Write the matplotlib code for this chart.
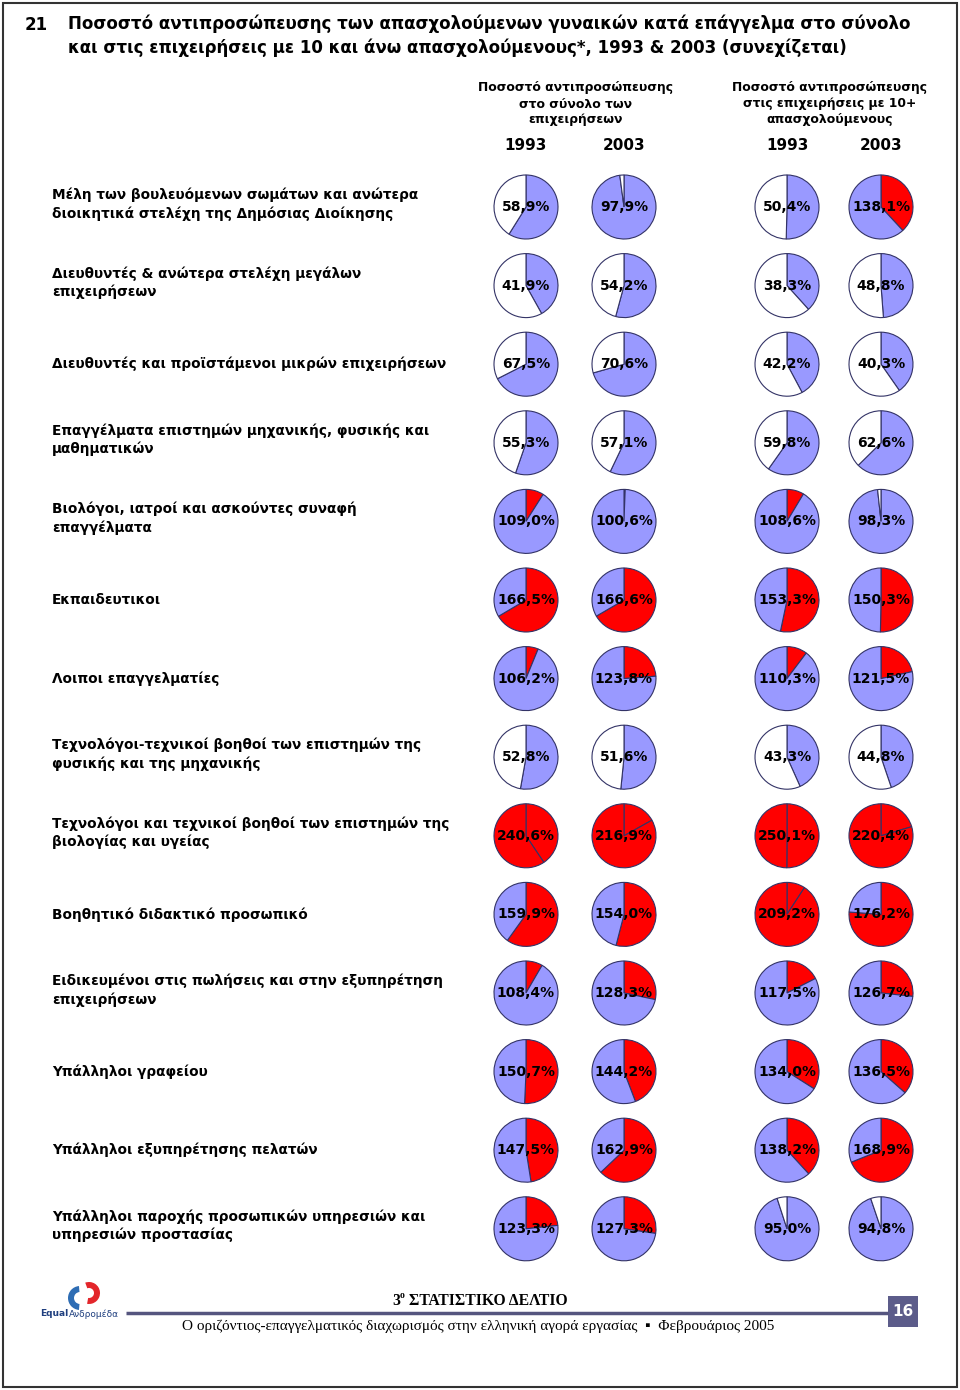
import matplotlib
matplotlib.use("Agg")
import matplotlib.pyplot as plt
from matplotlib.patches import Rectangle, Wedge

# ---------------- data ----------------
categories = [
    "Μέλη των βουλευόμενων σωμάτων και ανώτερα\nδιοικητικά στελέχη της Δημόσιας Διοίκησης",
    "Διευθυντές & ανώτερα στελέχη μεγάλων\nεπιχειρήσεων",
    "Διευθυντές και προϊστάμενοι μικρών επιχειρήσεων",
    "Επαγγέλματα επιστημών μηχανικής, φυσικής και\nμαθηματικών",
    "Βιολόγοι, ιατροί και ασκούντες συναφή\nεπαγγέλματα",
    "Εκπαιδευτικοι",
    "Λοιποι επαγγελματίες",
    "Τεχνολόγοι-τεχνικοί βοηθοί των επιστημών της\nφυσικής και της μηχανικής",
    "Τεχνολόγοι και τεχνικοί βοηθοί των επιστημών της\nβιολογίας και υγείας",
    "Βοηθητικό διδακτικό προσωπικό",
    "Ειδικευμένοι στις πωλήσεις και στην εξυπηρέτηση\nεπιχειρήσεων",
    "Υπάλληλοι γραφείου",
    "Υπάλληλοι εξυπηρέτησης πελατών",
    "Υπάλληλοι παροχής προσωπικών υπηρεσιών και\nυπηρεσιών προστασίας",
]
total_1993 = [58.9, 41.9, 67.5, 55.3, 109.0, 166.5, 106.2, 52.8, 240.6, 159.9, 108.4, 150.7, 147.5, 123.3]
total_2003 = [97.9, 54.2, 70.6, 57.1, 100.6, 166.6, 123.8, 51.6, 216.9, 154.0, 128.3, 144.2, 162.9, 127.3]
ent10_1993 = [50.4, 38.3, 42.2, 59.8, 108.6, 153.3, 110.3, 43.3, 250.1, 209.2, 117.5, 134.0, 138.2, 95.0]
ent10_2003 = [138.1, 48.8, 40.3, 62.6, 98.3, 150.3, 121.5, 44.8, 220.4, 176.2, 126.7, 136.5, 168.9, 94.8]
years = ["1993", "2003", "1993", "2003"]
group_headers = ["Ποσοστό αντιπροσώπευσης\nστο σύνολο των\nεπιχειρήσεων",
                 "Ποσοστό αντιπροσώπευσης\nστις επιχειρήσεις με 10+\nαπασχολούμενους"]
title_num = "21"
title_text = ("Ποσοστό αντιπροσώπευσης των απασχολούμενων γυναικών κατά επάγγελμα στο σύνολο\n"
              "και στις επιχειρήσεις με 10 και άνω απασχολούμενους*, 1993 & 2003 (συνεχίζεται)")
footer_title = "ΣΤΑΤΙΣΤΙΚΟ ΔΕΛΤΙΟ"
footer_sub = "Ο οριζόντιος-επαγγελματικός διαχωρισμός στην ελληνική αγορά εργασίας  ▪  Φεβρουάριος 2005"
page_no = "16"
logo_a, logo_b = "Equal", "Ανδρομέδα"

BLUE = "#9999FF"
RED = "#FF0000"
WHITE = "#FFFFFF"
EDGE = "#333366"

W, H = 960, 1390
fig = plt.figure(figsize=(W / 100, H / 100), dpi=100)
ax = fig.add_axes([0, 0, 1, 1])
ax.set_xlim(0, W)
ax.set_ylim(H, 0)
ax.axis("off")

FONT = "DejaVu Sans"
SERIF = ["Liberation Serif", "DejaVu Serif"]

# page frame
ax.add_patch(Rectangle((3, 3), W - 6, H - 6, fill=False, edgecolor="#333333", lw=1.5))

# title
ax.text(25, 25, title_num, fontsize=12, fontweight="bold", family=FONT, va="center", ha="left")
ax.text(68, 36, title_text, fontsize=12, fontweight="bold", family=FONT, va="center", ha="left",
        linespacing=1.35)

# headers
ax.text(576, 104, group_headers[0], fontsize=8.9, fontweight="bold", family=FONT, ha="center",
        va="center", linespacing=1.3)
ax.text(830, 104, group_headers[1], fontsize=8.9, fontweight="bold", family=FONT, ha="center",
        va="center", linespacing=1.3)
col_x = [526, 624, 787, 881]
for x, yr in zip(col_x, years):
    ax.text(x, 145, yr, fontsize=11, fontweight="bold", family=FONT, ha="center", va="center")


def split(v):
    if v <= 100:
        return [v, 100 - v], [BLUE, WHITE]
    if v <= 200:
        return [v - 100, 200 - v], [RED, BLUE]
    return [v - 200, 300 - v], [RED, RED]


row_y0, row_dy = 207, 78.6
R = 32
series = [total_1993, total_2003, ent10_1993, ent10_2003]
for i, cat in enumerate(categories):
    cy = row_y0 + i * row_dy
    ax.text(52, cy - 3 if "\n" in cat else cy, cat, fontsize=9.8, fontweight="bold", family=FONT,
            ha="left", va="center", linespacing=1.35)
    for x, s in zip(col_x, series):
        v = s[i]
        pa = fig.add_axes([(x - R - 2) / W, 1 - (cy + R + 2) / H, (2 * R + 4) / W, (2 * R + 4) / H])
        vals, cols = split(v)
        pa.pie(vals, colors=cols, startangle=90, counterclock=False, radius=R / (R + 2),
               wedgeprops=dict(edgecolor=EDGE, linewidth=0.8))
        pa.set_xlim(-1, 1)
        pa.set_ylim(-1, 1)
        pa.axis("off")
        ax.text(x, cy, f"{v:.1f}".replace(".", ",") + "%", fontsize=10, fontweight="bold",
                family=FONT, ha="center", va="center", zorder=10)

# bring the text axis to front for pie labels
ax.set_zorder(5)
ax.patch.set_alpha(0)

# footer
LINEC = "#55557F"
ax.plot([126, 888], [1313, 1313], color=LINEC, lw=2.5, solid_capstyle="butt")
ax.add_patch(Rectangle((888, 1296), 30, 31, facecolor="#5C5C8A", edgecolor="none"))
ax.text(903, 1312, page_no, color="white", fontsize=11, fontweight="bold", family=FONT,
        ha="center", va="center")
ax.text(392, 1301, "3", fontsize=11.3, fontweight="bold", family=SERIF, ha="left", va="center")
ax.text(400, 1296, "ο", fontsize=7, fontweight="bold", family=SERIF, ha="left", va="center")
ax.text(409, 1301, footer_title, fontsize=11.3, fontweight="bold", family=SERIF,
        ha="left", va="center")
ax.text(478, 1326, footer_sub, fontsize=11, family=["Liberation Serif", "DejaVu Sans"],
        ha="center", va="center")

# logo
ax.add_patch(Wedge((80, 1298), 12, 95, 265, width=6, facecolor="#2E6DB4", edgecolor="none"))
ax.add_patch(Wedge((89, 1293), 11, -110, 100, width=6, facecolor="#E3262B", edgecolor="none"))
t1 = ax.text(40, 1314, logo_a, fontsize=6.5, fontweight="bold", color="#1F3F7F", family=FONT,
             ha="left", va="center")
fig.canvas.draw()
bb = t1.get_window_extent().transformed(ax.transData.inverted())
ax.text(bb.x1 + 0.5, 1314, logo_b, fontsize=6.5, color="#1F3F7F", family=FONT, ha="left", va="center")

fig.savefig("out.png", dpi=100)
